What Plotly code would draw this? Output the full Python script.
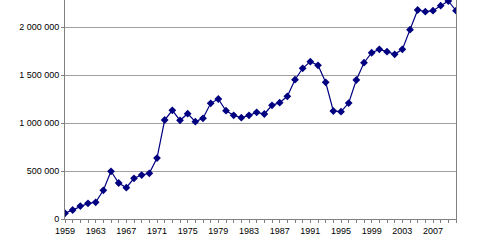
import plotly.graph_objects as go

years = list(range(1959, 2011))
values = [
    60000, 94000, 135000, 163000, 174000, 299000, 497000, 375000, 326000, 424000,
    458000, 476000, 635000, 1031000, 1132000, 1028000, 1097000, 1014000, 1049000, 1205000,
    1250000, 1128000, 1080000, 1055000, 1080000, 1111000, 1094000, 1184000, 1212000, 1278000,
    1451000, 1570000, 1639000, 1601000, 1424000, 1125000, 1118000, 1208000, 1448000, 1628000,
    1732000, 1767000, 1743000, 1715000, 1767000, 1972000, 2177000, 2160000, 2170000, 2222000,
    2271000, 2170000,
]
x_tick_years = list(range(1959, 2011, 4))
y_tick_vals = [0, 500000, 1000000, 1500000, 2000000]
y_tick_text = ["0", "500 000", "1 000 000", "1 500 000", "2 000 000"]

fig = go.Figure()
fig.add_trace(go.Scatter(
    x=years, y=values, mode="lines+markers",
    line=dict(color="#000080", width=1.2),
    marker=dict(symbol="diamond", size=6, color="#000080"),
))

fig.update_layout(
    width=479, height=240,
    margin=dict(l=65, r=23, t=0, b=21),
    paper_bgcolor="white", plot_bgcolor="white",
    showlegend=False,
    font=dict(family="Liberation Sans, Arial, sans-serif", size=9, color="#000000"),
)
fig.update_xaxes(
    range=[1959, 2010],
    tickvals=x_tick_years, ticktext=[str(y) for y in x_tick_years],
    showgrid=False, zeroline=False,
    showline=True, linecolor="#808080", linewidth=1,
    ticks="outside", ticklen=3, tickcolor="#808080",
    minor=dict(ticks="outside", dtick=1, tick0=1959, ticklen=3, tickcolor="#808080", showgrid=False),
)
fig.update_yaxes(
    range=[0, 2281250],
    tickvals=y_tick_vals, ticktext=y_tick_text,
    showgrid=True, gridcolor="#a0a0a0", gridwidth=1,
    zeroline=False,
    showline=True, linecolor="#808080", linewidth=1, mirror=True,
    ticks="outside", ticklen=3, tickcolor="#808080",
)

fig.write_html("out.html")
